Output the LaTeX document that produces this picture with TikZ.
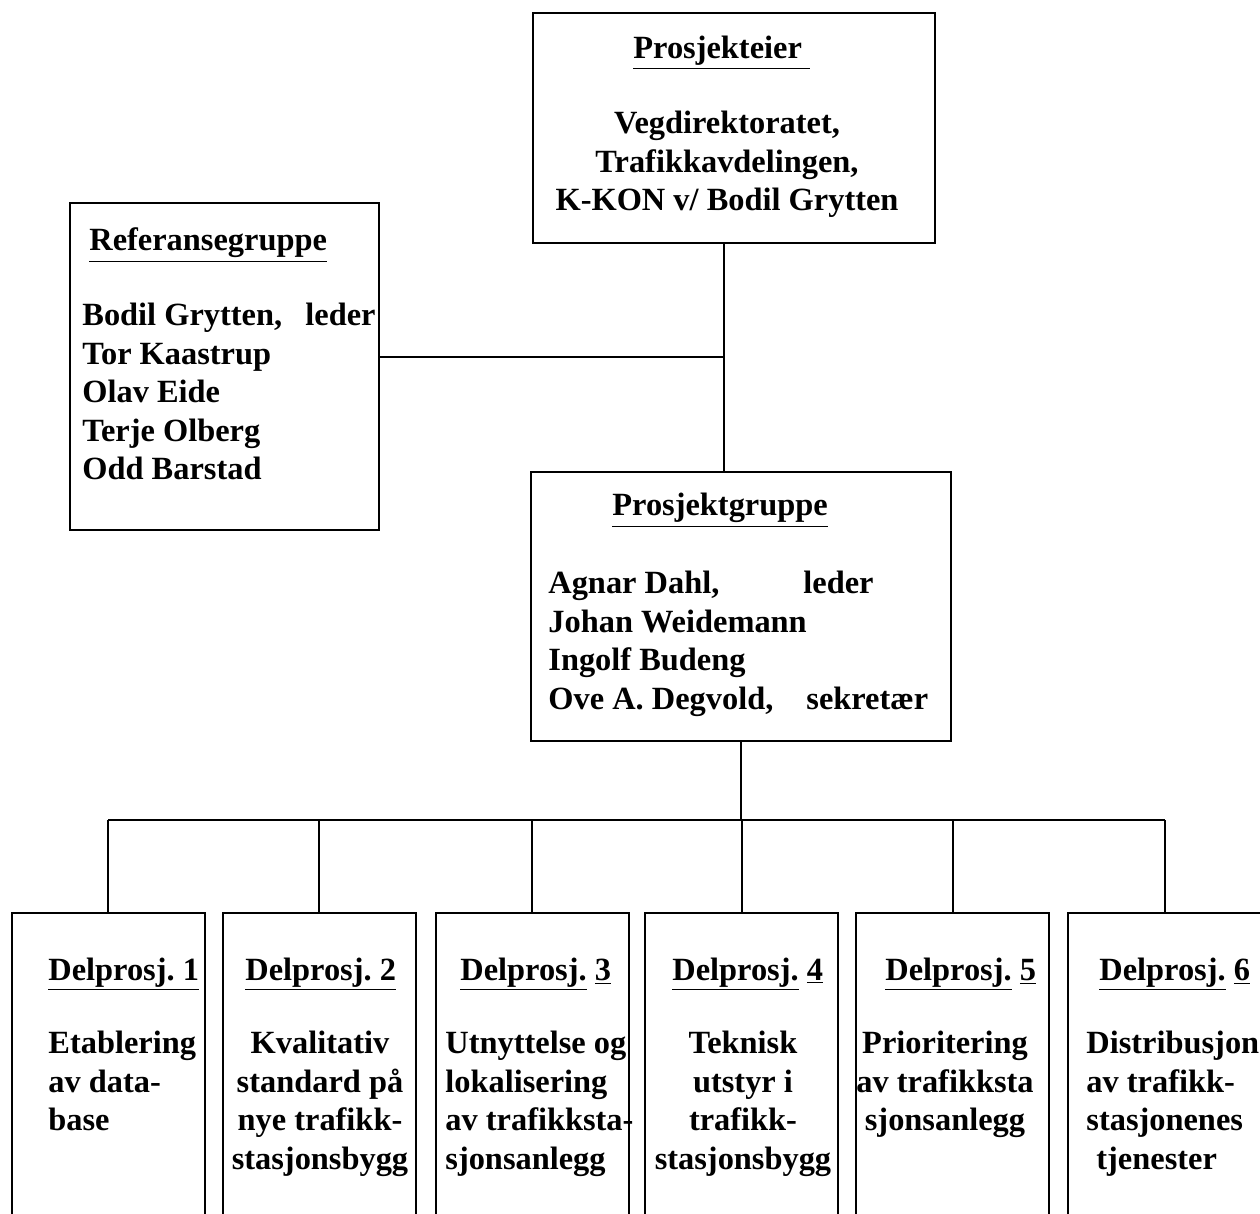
\documentclass[tikz,border=0pt]{standalone}
\usepackage{fontspec}
\setmainfont{Liberation Serif}
\frenchspacing
\tikzset{
  box/.style={draw, line width=1pt, inner sep=0pt},
  txt/.style={font=\fontsize{16.2}{19.2}\selectfont\bfseries, inner sep=0pt},
  link/.style={line width=1pt},
}
\begin{document}
\begin{tikzpicture}[x=0.5pt, y=-0.5pt]
    \useasboundingbox (0,0) rectangle (1260,1214);
    \clip (0,0) rectangle (1260,1214);

    % boxes
    \node[box, minimum width=201pt, minimum height=115pt] (eier) at (734,128) {};
    \node[box, minimum width=154.5pt, minimum height=163.5pt] (ref) at (224.5,366.5) {};
    \node[box, minimum width=210pt, minimum height=134.5pt] (gruppe) at (741,606.5) {};
    \foreach \cx [count=\i] in {108,319,532,741.5,952.5,1164.5}
        \node[box, minimum width=96.5pt, minimum height=193.5pt] (d\i) at (\cx,1106.5) {};

    % connectors
    \coordinate (spine) at (724,243);
    \coordinate (refjoin) at (724,357);
    \coordinate (bus) at (741,820);
    \draw[link] (spine) -- (spine |- gruppe.north);
    \draw[link] (refjoin) -- (refjoin -| ref.east);
    \draw[link] (gruppe.south) -- (bus);
    \draw[link] (d1.north |- bus) -- (d6.north |- bus);
    \foreach \i in {1,...,6}
        \draw[link] (d\i.north) -- (d\i.north |- bus);

    % Prosjekteier
    \node[txt, anchor=base west] (eiertitle) at (633,59) {\underline{Prosjekteier\ }};
    \node[txt, anchor=north, align=center] (eiertext) at (727,111)
        {Vegdirektoratet,\\Trafikkavdelingen,\\K-KON v/ Bodil Grytten};

    % Referansegruppe
    \node[txt, anchor=base west] (reftitle) at (89,251) {\underline{Referansegruppe}};
    \node[txt, anchor=north west, align=left] (reftext) at (82,303)
        {\makebox[111.5pt][l]{Bodil Grytten,}leder\\Tor Kaastrup\\Olav Eide\\Terje Olberg\\Odd Barstad};

    % Prosjektgruppe
    \node[txt, anchor=base west] (gruppetitle) at (612,516) {\underline{Prosjektgruppe}};
    \node[txt, anchor=north west, align=left] (gruppetext) at (548,571)
        {\makebox[127.5pt][l]{Agnar Dahl,}leder\\Johan Weidemann\\Ingolf Budeng\\
         \makebox[129pt][l]{Ove A. Degvold,}sekretær};

    % Delprosjekter
    \node[txt, anchor=base west] (t1) at (48,980) {\underline{Delprosj. 1}};
    \node[txt, anchor=base west] (t2) at (245,980) {\underline{Delprosj. 2}};
    \node[txt, anchor=base west] (t3) at (460,980) {\underline{Delprosj.} \underline{3}};
    \node[txt, anchor=base west] (t4) at (672,980) {\underline{Delprosj.} \underline{4}};
    \node[txt, anchor=base west] (t5) at (885,980) {\underline{Delprosj.} \underline{5}};
    \node[txt, anchor=base west] (t6) at (1099,980) {\underline{Delprosj.} \underline{6}};

    \node[txt, anchor=north west, align=left] (b1) at (48,1031)
        {Etablering\\av data-\\base};
    \node[txt, anchor=north, align=center] (b2) at (320,1031)
        {Kvalitativ\\standard på\\nye trafikk-\\stasjonsbygg};
    \node[txt, anchor=north west, align=left] (b3) at (445,1031)
        {Utnyttelse og\\lokalisering\\av trafikksta-\\sjonsanlegg};
    \node[txt, anchor=north, align=center] (b4) at (743,1031)
        {Teknisk\\utstyr i\\trafikk-\\stasjonsbygg};
    \node[txt, anchor=north, align=center] (b5) at (945,1031)
        {Prioritering\\av trafikksta\\sjonsanlegg};
    \node[txt, anchor=north west, align=left] (b6) at (1086,1031)
        {Distribusjon\\av trafikk-\\stasjonenes\\\hspace*{5pt}tjenester};
\end{tikzpicture}
\end{document}
